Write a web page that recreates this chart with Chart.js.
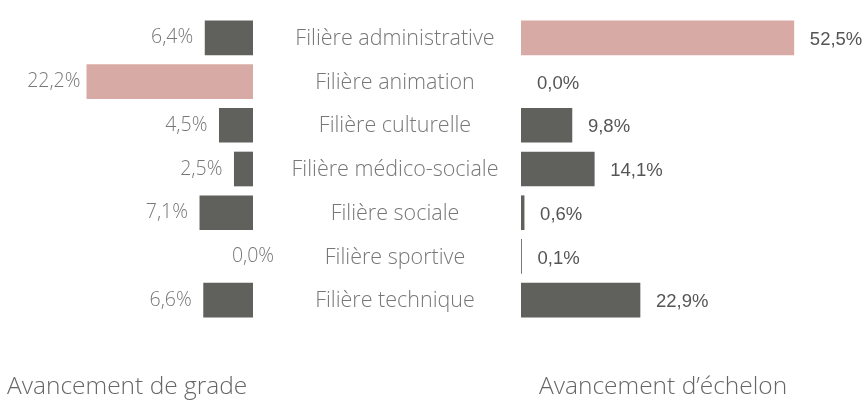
<!DOCTYPE html>
<html>
<head>
<meta charset="utf-8">
<script src="https://cdn.jsdelivr.net/npm/chart.js@4.4.0/dist/chart.umd.min.js"></script>
<style>
  html, body { margin: 0; padding: 0; background: #fff; }
  #wrap { position: relative; width: 864px; height: 402px; overflow: hidden; }
  .box { position: absolute; top: 0; height: 402px; }
  #leftBox { left: 0; width: 290px; }
  #rightBox { left: 270px; width: 594px; }
  .title { position: absolute; top: 368px; font-family: "Open Sans", sans-serif; font-weight: 300; font-size: 24.5px; color: #666; white-space: nowrap; }
</style>
</head>
<body>
<div id="wrap">
  <div class="box" id="leftBox"><canvas id="gradeChart"></canvas></div>
  <div class="box" id="rightBox"><canvas id="echelonChart"></canvas></div>
  <div class="title" style="left:7px">Avancement de grade</div>
  <div class="title" style="left:539px">Avancement d’échelon</div>
</div>
<script>
const filieres = ['Filière administrative', 'Filière animation', 'Filière culturelle', 'Filière médico-sociale', 'Filière sociale', 'Filière sportive', 'Filière technique'];
const grade = [6.4, 22.2, 4.5, 2.5, 7.1, 0.0, 6.6];
const echelon = [52.5, 0.0, 9.8, 14.1, 0.6, 0.1, 22.9];

const grey = '#60615d';
const pink = '#d8aaa5';

function colorsFor(values) {
  let max = Math.max(...values);
  return values.map(v => v === max ? pink : grey);
}

function fmt(v) {
  return v.toFixed(1).replace('.', ',') + '%';
}

// value labels next to each bar
const valueLabels = {
  id: 'valueLabels',
  afterDatasetsDraw(chart, args, opts) {
    const ctx = chart.ctx;
    const meta = chart.getDatasetMeta(0);
    ctx.save();
    ctx.font = opts.font;
    ctx.fillStyle = opts.color;
    ctx.textBaseline = 'middle';
    meta.data.forEach((bar, i) => {
      let v = chart.data.datasets[0].data[i];
      if (opts.side === 'left') {
        ctx.textAlign = 'center';
        ctx.fillText(fmt(v), v > 0 ? bar.x - 33 : bar.x, bar.y);
      } else {
        ctx.textAlign = 'left';
        ctx.fillText(fmt(v), bar.x + 16, bar.y + 2);
      }
    });
    ctx.restore();
  }
};

// category names between the two charts
const categoryNames = {
  id: 'categoryNames',
  afterDraw(chart, args, opts) {
    if (!opts.show) return;
    const ctx = chart.ctx;
    const yScale = chart.scales.y;
    ctx.save();
    ctx.font = '300 21.5px "Open Sans"';
    ctx.fillStyle = '#777';
    ctx.textAlign = 'center';
    ctx.textBaseline = 'middle';
    chart.data.labels.forEach((lab, i) => {
      ctx.fillText(lab, opts.x, yScale.getPixelForValue(i) + 1);
    });
    ctx.restore();
  }
};

const baseOptions = {
  indexAxis: 'y',
  responsive: true,
  maintainAspectRatio: false,
  animation: false,
  events: [],
  plugins: { legend: { display: false }, tooltip: { enabled: false } }
};

// no sliver for zero bars
const inflate = c => c.raw === 0 ? 0 : 0.33;

new Chart(document.getElementById('gradeChart'), {
  type: 'bar',
  data: {
    labels: filieres,
    datasets: [{ data: grade, backgroundColor: colorsFor(grade), barThickness: 34, inflateAmount: inflate }]
  },
  options: {
    ...baseOptions,
    layout: { padding: { left: 0, right: 37, top: 16, bottom: 80 } },
    scales: {
      x: { display: false, reverse: true, min: 0, max: 33.8 },
      y: { display: false }
    },
    plugins: {
      ...baseOptions.plugins,
      valueLabels: { side: 'left', font: '300 19.5px "Open Sans"', color: '#777' },
      categoryNames: { show: false }
    }
  },
  plugins: [valueLabels, categoryNames]
});

new Chart(document.getElementById('echelonChart'), {
  type: 'bar',
  data: {
    labels: filieres,
    datasets: [{ data: echelon, backgroundColor: colorsFor(echelon), barThickness: 34, inflateAmount: inflate }]
  },
  options: {
    ...baseOptions,
    layout: { padding: { left: 251, right: 0, top: 16, bottom: 80 } },
    scales: {
      x: { display: false, min: 0, max: 66 },
      y: { display: false }
    },
    plugins: {
      ...baseOptions.plugins,
      valueLabels: { side: 'right', font: '18.5px "Liberation Sans", Arial', color: '#555' },
      categoryNames: { show: true, x: 125 }
    }
  },
  plugins: [valueLabels, categoryNames]
});
</script>
</body>
</html>
